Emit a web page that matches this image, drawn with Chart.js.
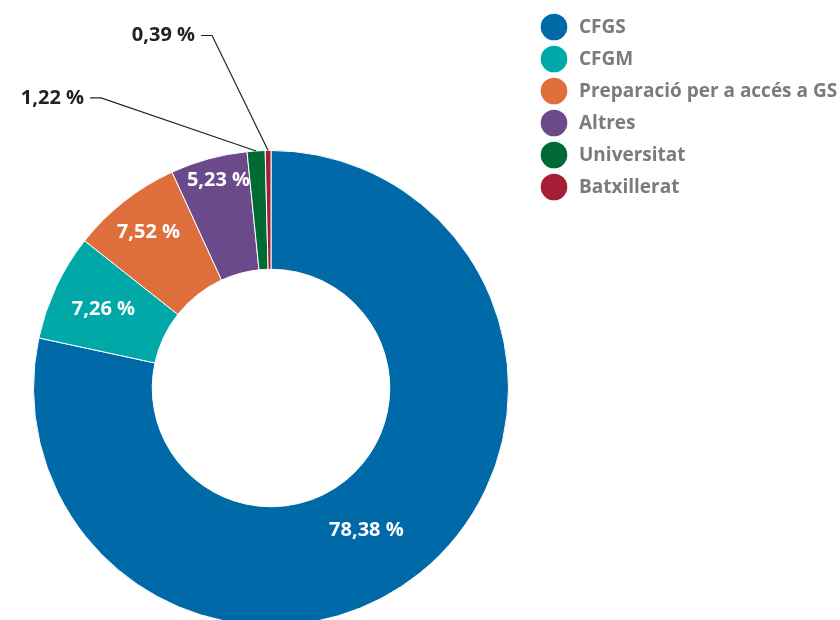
<!DOCTYPE html>
<html>
<head>
<meta charset="utf-8">
<script src="https://cdn.jsdelivr.net/npm/chart.js@4/dist/chart.umd.min.js"></script>
<style>
  html, body { margin: 0; padding: 0; background: #fff; }
  #wrap { width: 840px; height: 620px; overflow: hidden; position: relative; }
</style>
</head>
<body>
<div id="wrap"><canvas id="chart" width="840" height="640"></canvas></div>
<script>
// ---- data ----
const CATEGORIES = ['CFGS', 'CFGM', 'Preparació per a accés a GS', 'Altres', 'Universitat', 'Batxillerat'];
const VALUES = [78.38, 7.26, 7.52, 5.23, 1.22, 0.39];
const COLORS = ['#0069A8', '#00A9A8', '#DE6F3C', '#6A4A8B', '#006A35', '#A41E36'];
// slices whose label sits outside with a leader line: [elbow dx, elbow dy] from the arc edge
const OUTSIDE = { 4: [-155, -53], 5: [-56, -115] };
// inside labels: radius (share of the ring, 0 = inner, 1 = outer) and angle nudge in degrees
const LABEL_POS = [[0.44, 5], [0.56, 0], [0.67, 0], [0.80, 1]];

const FONT = '"Open Sans", "Noto Sans", sans-serif';
const fmt = v => v.toFixed(2).replace('.', ',') + ' %';

// draws value labels (inside or with leader lines) and the round legend
const labelsPlugin = {
  id: 'labels',
  afterDraw(chart) {
    const ctx = chart.ctx;
    const arcs = chart.getDatasetMeta(0).data;
    ctx.save();
    arcs.forEach((arc, i) => {
      const { x, y, startAngle, endAngle, innerRadius, outerRadius } = arc.getProps(
        ['x', 'y', 'startAngle', 'endAngle', 'innerRadius', 'outerRadius'], true);
      const mid = (startAngle + endAngle) / 2;
      if (OUTSIDE[i]) {
        const ex = x + Math.cos(mid) * outerRadius;
        const ey = y + Math.sin(mid) * outerRadius;
        const bx = ex + OUTSIDE[i][0];
        const by = ey + OUTSIDE[i][1];
        ctx.strokeStyle = '#222';
        ctx.lineWidth = 1.2;
        ctx.beginPath();
        ctx.moveTo(ex, ey);
        ctx.lineTo(bx, by);
        ctx.lineTo(bx - 11, by);
        ctx.stroke();
        ctx.fillStyle = '#222';
        ctx.font = 'bold 20px ' + FONT;
        ctx.textAlign = 'right';
        ctx.textBaseline = 'middle';
        ctx.fillText(fmt(VALUES[i]), bx - 17, by);
      } else {
        const [share, nudge] = LABEL_POS[i];
        const r = innerRadius + (outerRadius - innerRadius) * share;
        const a = mid + nudge * Math.PI / 180;
        ctx.fillStyle = '#fff';
        ctx.font = 'bold 20px ' + FONT;
        ctx.textAlign = 'center';
        ctx.textBaseline = 'middle';
        ctx.fillText(fmt(VALUES[i]), x + Math.cos(a) * r, y + Math.sin(a) * r);
      }
    });

    // legend
    CATEGORIES.forEach((name, i) => {
      const cy = 27 + i * 32;
      ctx.fillStyle = COLORS[i];
      ctx.beginPath();
      ctx.arc(554, cy, 13.3, 0, Math.PI * 2);
      ctx.fill();
      ctx.fillStyle = '#7B7B7B';
      ctx.font = 'bold 19px ' + FONT;
      ctx.textAlign = 'left';
      ctx.textBaseline = 'middle';
      ctx.fillText(name, 579, cy + 1);
    });
    ctx.restore();
  }
};

new Chart(document.getElementById('chart'), {
  type: 'doughnut',
  data: {
    labels: CATEGORIES,
    datasets: [{
      data: VALUES,
      backgroundColor: COLORS,
      borderColor: '#fff',
      borderWidth: 1,
      hoverOffset: 0,
      offset: 0,
    }],
  },
  options: {
    responsive: false,
    animation: false,
    cutout: '50%',
    layout: { padding: { left: 33, top: 150, right: 331, bottom: 14 } },
    plugins: { legend: { display: false }, tooltip: { enabled: false } },
  },
  plugins: [labelsPlugin],
});
</script>
</body>
</html>
